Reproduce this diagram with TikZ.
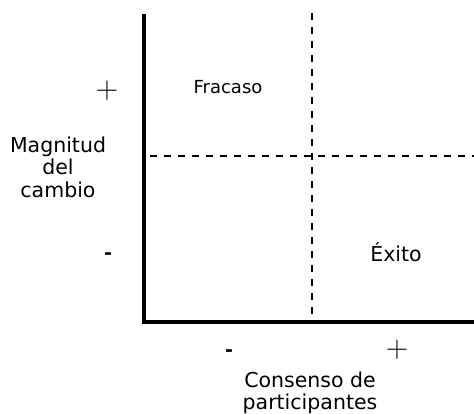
\documentclass[tikz,border=0pt]{standalone}
\usepackage{fontspec}
\setmainfont{DejaVu Sans}
\begin{document}
\begin{tikzpicture}[x=1pt,y=-1pt,
  lbl/.style={font=\fontsize{20.5}{22.5}\selectfont, inner sep=0pt, align=center},
  sml/.style={font=\fontsize{18}{20}\selectfont, inner sep=0pt},
  plus/.style={font=\fontsize{20}{22}\selectfont, inner sep=0pt, scale=1.5},
  minus/.style={font=\fontsize{19}{20}\selectfont\bfseries, inner sep=0pt},
  axis/.style={line width=3.5pt, line join=miter},
  guide/.style={line width=1.6pt, dash pattern=on 7pt off 7pt}]
\useasboundingbox (0,0) rectangle (474,413);
\coordinate (ytop) at (144,14);
\coordinate (orig) at (144,322);
\coordinate (xend) at (474,322);
\coordinate (vtop) at (312,13);
\coordinate (vbot) at (312,322);
\coordinate (hleft) at (150,156);
\coordinate (hright) at (474,156);
\draw[axis] (ytop) -- (orig) -- (xend);
\draw[guide] (vtop) -- (vbot);
\draw[guide] (hleft) -- (hright);
\node[sml, anchor=base] (fra) at (228,93) {Fracaso};
\node[lbl, anchor=base] (exi) at (396,261) {Éxito};
\node[lbl, anchor=base] (mag1) at (58,152) {Magnitud};
\node[lbl, anchor=base] (mag2) at (58,174.5) {del};
\node[lbl, anchor=base] (mag3) at (58,197) {cambio};
\node[lbl, anchor=base] (con1) at (310,387) {Consenso de};
\node[lbl, anchor=base] (con2) at (310,409) {participantes};
\node[plus] (yp) at (107,91) {$+$};
\node[minus] (ym) at (108,256) {-};
\node[minus] (xm) at (229,353) {-};
\node[plus] (xp) at (397,350) {$+$};
\end{tikzpicture}
\end{document}
